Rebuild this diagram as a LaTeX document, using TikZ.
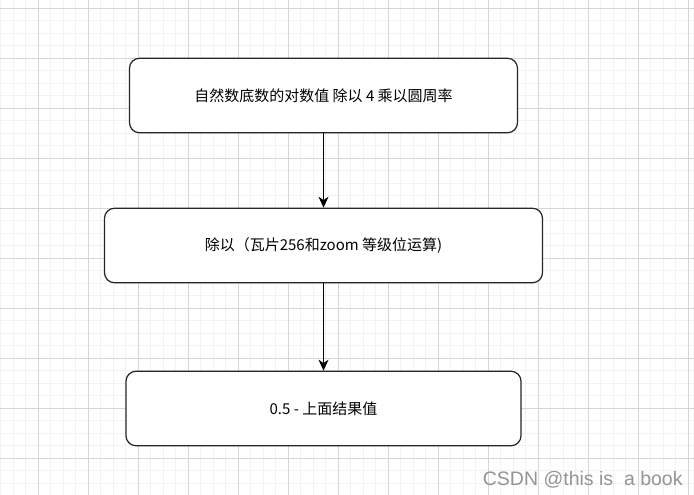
\documentclass[tikz,border=0pt]{standalone}
\usepackage{fontspec}
\setmainfont{Noto Sans CJK SC}
\newfontfamily\wmfont{Liberation Sans}
\usetikzlibrary{positioning,arrows.meta}
\tikzstyle{gridminor} = [draw=black!5, line width=0.8pt]
\tikzstyle{gridmajor} = [draw=black!16, line width=0.8pt]
\tikzstyle{box} = [draw=black!85, rectangle, fill=white, rounded corners=10pt, line width=1.2pt, text centered, minimum height=74.5pt, font=\fontsize{15}{17}\selectfont]
\tikzstyle{line} = [draw, line width=1.1pt, -{Stealth[length=11pt,width=10pt,inset=3.5pt]}]

\begin{document}
\begin{tikzpicture}[auto, node distance=150pt]
	\useasboundingbox (-38pt,8pt) rectangle (656pt,-487pt);
	% background grid
	\draw[gridminor] (-38pt,8pt) grid[step=12.5pt] (656pt,-487pt);
	\draw[gridmajor] (-38pt,8pt) grid[step=50pt] (656pt,-487pt);

	\node[box, minimum width=388pt] (logv) at (285.5pt,-87.5pt) {自然数底数的对数值 除以 4 乘以圆周率};
	\node[box, minimum width=438pt, below of=logv](shift){除以（瓦片256和zoom 等级位运算)};
	\node[box, minimum width=395pt, below of=shift, node distance=163pt](res){0.5 - 上面结果值};

	\path [line](logv) -- (shift);
	\path [line](shift) -- (res);

	\node[anchor=base west, inner sep=0pt, text=black!42, font=\wmfont\fontsize{19.5}{22}\selectfont] (mark) at (444.7pt,-477pt) {CSDN @this is\ \ a book};
\end{tikzpicture}
\end{document}
